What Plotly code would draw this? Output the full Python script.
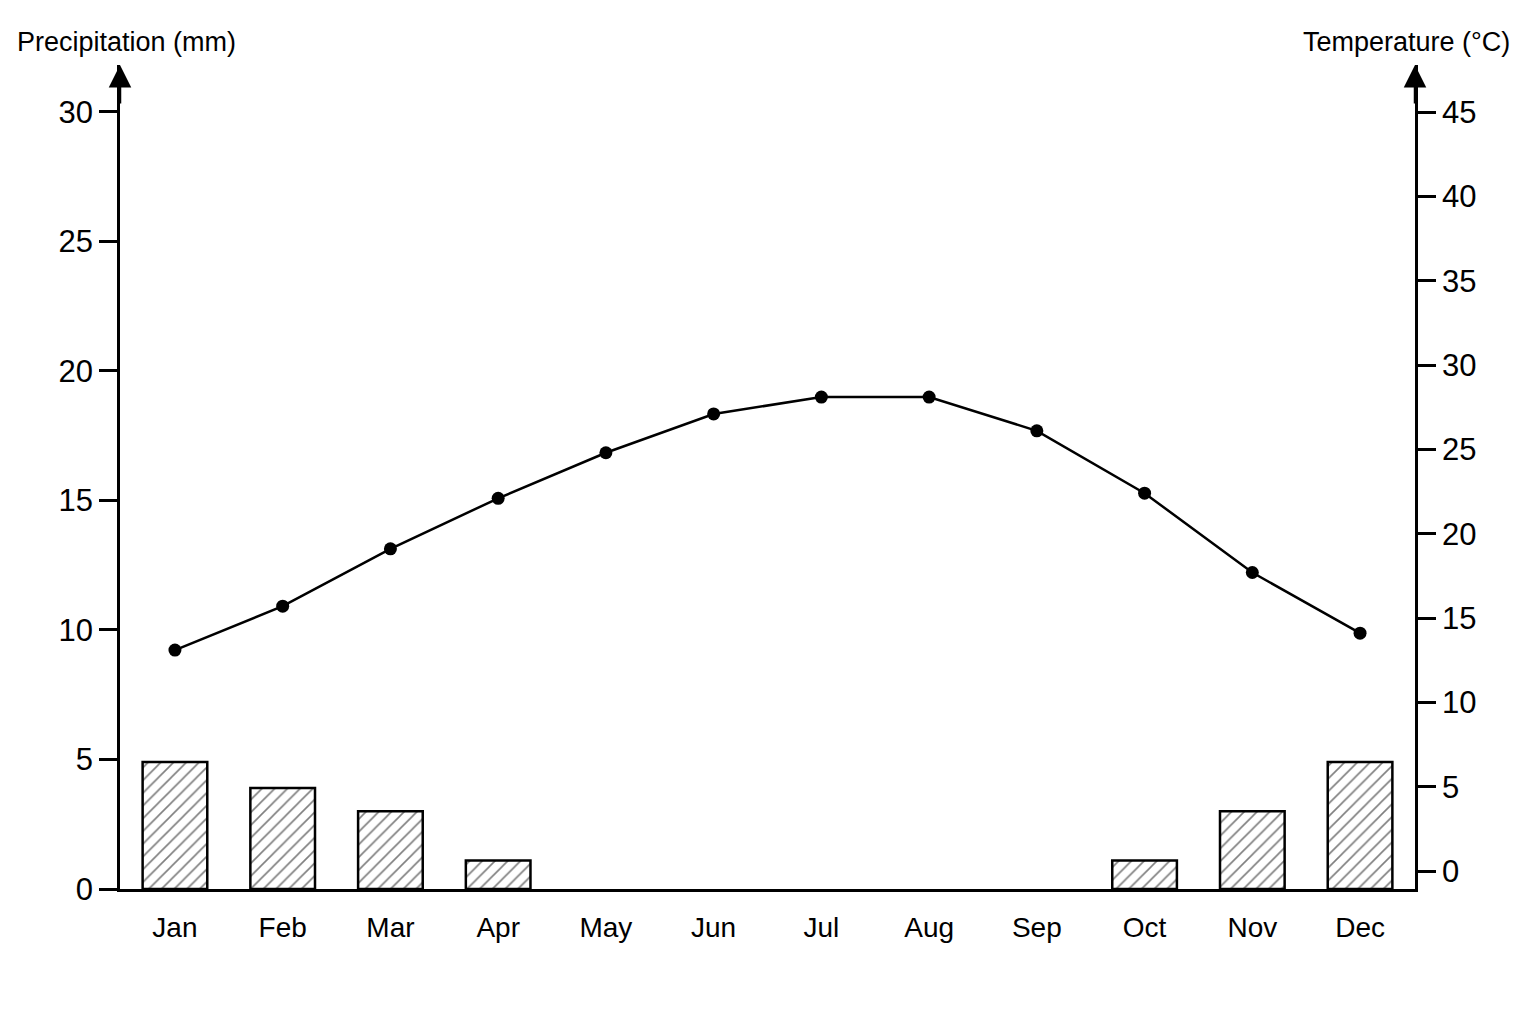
import plotly.graph_objects as go

months = ["Jan", "Feb", "Mar", "Apr", "May", "Jun", "Jul", "Aug", "Sep", "Oct", "Nov", "Dec"]
precip_mm = [4.9, 3.9, 3.0, 1.1, 0, 0, 0, 0, 0, 1.1, 3.0, 4.9]
temp_c = [13.1, 15.7, 19.1, 22.1, 24.8, 27.1, 28.1, 28.1, 26.1, 22.4, 17.7, 14.1]

precip_ticks = [0, 5, 10, 15, 20, 25, 30]
temp_ticks = [0, 5, 10, 15, 20, 25, 30, 35, 40, 45]

font_family = "Liberation Sans, Arial, Helvetica, sans-serif"

fig = go.Figure()

# rainfall bars, hatched; no outline for dry months
fig.add_trace(go.Bar(
    x=months, y=precip_mm, width=0.6,
    marker=dict(color="white",
                line=dict(color="black", width=[2.5 if v > 0 else 0 for v in precip_mm]),
                pattern=dict(shape="/", fgcolor="black", bgcolor="white", size=9, solidity=0.18)),
    yaxis="y", showlegend=False,
))

# temperature line
fig.add_trace(go.Scatter(
    x=months, y=temp_c, mode="lines+markers",
    line=dict(color="black", width=2.5),
    marker=dict(color="black", size=13),
    yaxis="y2", showlegend=False,
))

fig.update_layout(
    # page has an 8px body margin, so the figure is a bit smaller
    width=1528, height=1016,
    margin=dict(l=112, r=121, t=57, b=135),
    paper_bgcolor="white", plot_bgcolor="white",
    font=dict(family=font_family, color="black", size=30),
    xaxis=dict(range=[-0.51, 11.51], showline=True, linecolor="black", linewidth=2.5,
               ticks="", showgrid=False, zeroline=False, ticklabelstandoff=12,
               tickfont=dict(size=28)),
    yaxis=dict(range=[0, 31.81], tickvals=precip_ticks, showline=True, linecolor="black",
               linewidth=2.5, ticks="outside", ticklen=18, tickwidth=2.5, tickcolor="black",
               showgrid=False, zeroline=False, tickfont=dict(size=31)),
    yaxis2=dict(range=[-1.067, 47.79], tickvals=temp_ticks, overlaying="y", side="right",
                showline=True, linecolor="black", linewidth=2.5, ticks="outside", ticklen=18,
                tickwidth=2.5, tickcolor="black", showgrid=False, zeroline=False,
                tickfont=dict(size=31)),
)

# arrow heads on both vertical axes
for xpos in [0, 1]:
    fig.add_annotation(x=xpos, y=1, xref="paper", yref="paper", ax=0, ay=40,
                       showarrow=True, arrowhead=2, arrowsize=1.8, arrowwidth=2.5,
                       arrowcolor="black", text="")

fig.add_annotation(x=-0.081, y=1.028, xref="paper", yref="paper", text="Precipitation (mm)",
                   xanchor="left", yanchor="middle", showarrow=False, font=dict(size=27))
fig.add_annotation(x=1.0749, y=1.028, xref="paper", yref="paper", text="Temperature (°C)",
                   xanchor="right", yanchor="middle", showarrow=False, font=dict(size=27))

fig.write_html("out.html")
